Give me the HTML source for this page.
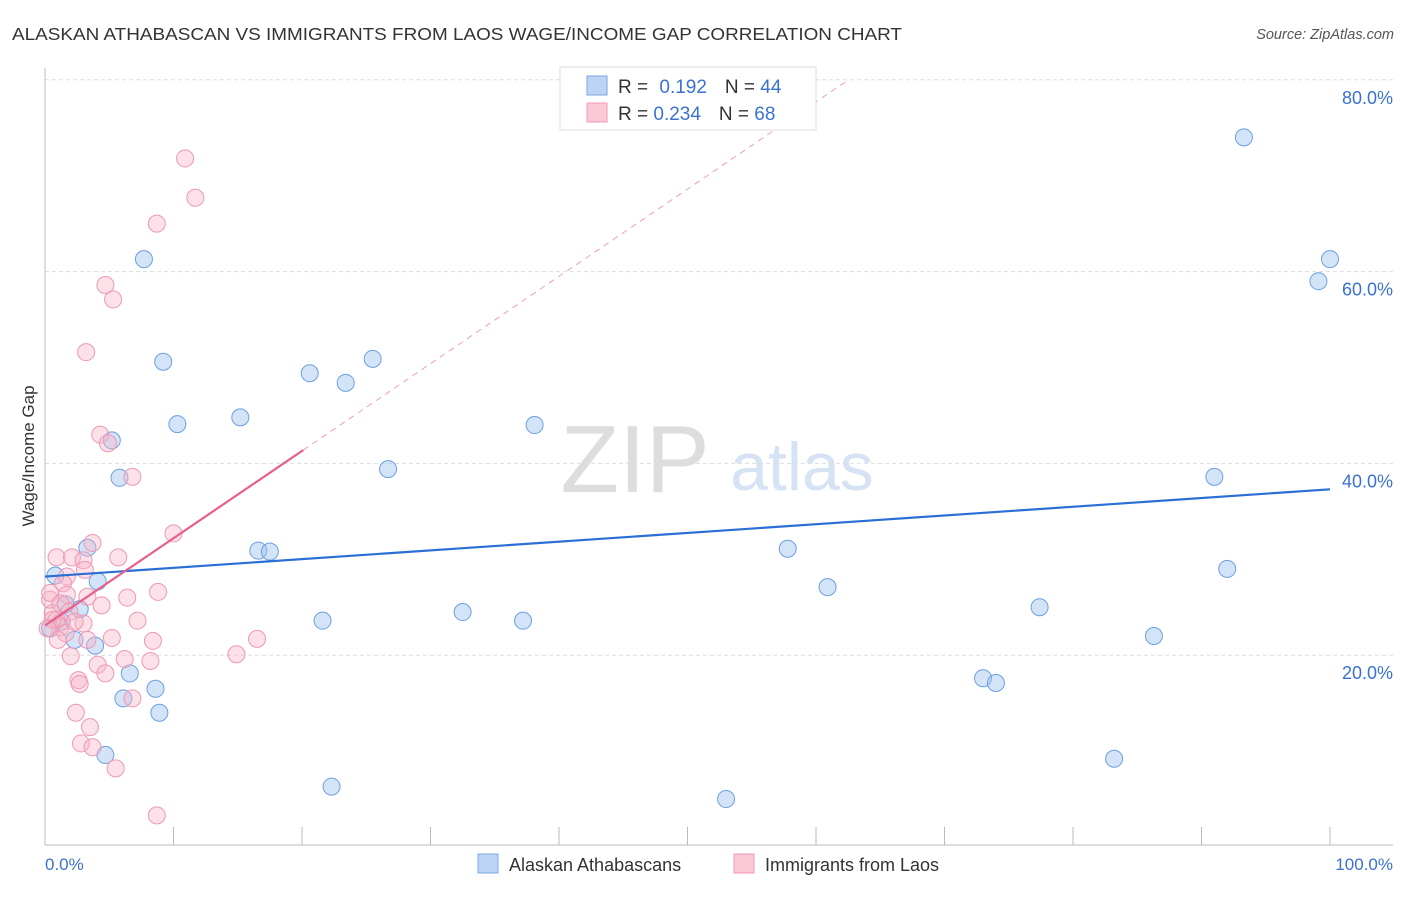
<!DOCTYPE html>
<html><head><meta charset="utf-8"><style>
body{margin:0;background:#fff;font-family:"Liberation Sans",sans-serif;}
svg text{font-family:"Liberation Sans",sans-serif;}
</style></head><body>
<svg id="c" width="1406" height="892">
<text x="12" y="40" font-size="17.5" fill="#333" textLength="890" lengthAdjust="spacingAndGlyphs">ALASKAN ATHABASCAN VS IMMIGRANTS FROM LAOS WAGE/INCOME GAP CORRELATION CHART</text>
<text x="1394" y="39" font-size="14.5" fill="#555" font-style="italic" text-anchor="end">Source: ZipAtlas.com</text>
<text x="635" y="492" font-size="96" fill="#ddd" font-family="Liberation Serif" text-anchor="middle">ZIP</text>
<text x="802" y="490" font-size="68" fill="#d6e3f5" text-anchor="middle">atlas</text>
<g id="grid"></g>
<g id="marks"></g>
<text transform="translate(34,456) rotate(-90)" font-size="17" fill="#333" text-anchor="middle">Wage/Income Gap</text>
<text x="45" y="870" font-size="17" fill="#3a72d0">0.0%</text>
<text x="1393" y="870" font-size="17" fill="#3a72d0" text-anchor="end">100.0%</text>
<g>
<rect x="560" y="67" width="256" height="63" fill="#fff" stroke="#ddd"/>
<rect x="587" y="76" width="20" height="19" fill="#bcd5f5" stroke="#7aa6e0"/>
<rect x="587" y="103" width="20" height="19" fill="#fbc8d6" stroke="#f09ab2"/>
<text x="618" y="93" font-size="19" fill="#333">R = <tspan fill="#3a72d0" dx="6">0.192</tspan><tspan dx="18">N = </tspan><tspan fill="#3a72d0">44</tspan></text>
<text x="618" y="120" font-size="19" fill="#333">R = <tspan fill="#3a72d0">0.234</tspan><tspan dx="18">N = </tspan><tspan fill="#3a72d0">68</tspan></text>
</g>
<g>
<rect x="478" y="854" width="20" height="19" fill="#bcd5f5" stroke="#7aa6e0"/>
<text x="509" y="871" font-size="18" fill="#333">Alaskan Athabascans</text>
<rect x="734" y="854" width="20" height="19" fill="#fbc8d6" stroke="#f09ab2"/>
<text x="765" y="871" font-size="18" fill="#333">Immigrants from Laos</text>
</g>
</svg>
<script>
const yTicks=[20,40,60,80];
const xTicks=[10,20,30,40,50,60,70,80,90,100];
const blueX=[93.3,100,99.1,7.7,9.2,25.5,20.6,23.4,10.3,15.2,38.1,5.2,26.7,5.8,91.0,16.6,17.5,57.8,3.3,0.8,4.1,60.9,92.0,1.6,2.7,32.5,21.6,37.2,77.4,86.3,2.3,3.9,6.6,8.6,6.1,8.9,73.0,74.0,4.7,22.3,53.0,83.2,0.4,1.3];
const blueY=[74.0,61.3,59.0,61.3,50.6,50.9,49.4,48.4,44.1,44.8,44.0,42.4,39.4,38.5,38.6,30.9,30.8,31.1,31.2,28.3,27.7,27.1,29.0,25.3,24.8,24.5,23.6,23.6,25.0,22.0,21.6,21.0,18.1,16.5,15.5,14.0,17.6,17.1,9.6,6.3,5.0,9.2,22.8,23.5];
const pinkX=[10.9,11.7,8.7,4.7,5.3,3.2,4.3,4.9,6.8,10.0,0.9,2.1,3.0,3.7,3.1,5.7,1.7,3.3,4.4,6.4,8.8,7.2,3.0,5.2,8.4,3.3,2.0,6.2,8.2,4.1,4.7,2.6,2.7,2.4,3.5,2.8,3.7,5.5,6.8,8.7,14.9,16.5,0.6,1.2,0.4,1.4,0.4,0.9,1.7,1.2,1.6,0.6,0.2,1.9,2.3,1.0];
const pinkY=[71.8,67.7,65.0,58.6,57.1,51.6,43.0,42.1,38.6,32.7,30.2,30.2,29.9,31.7,28.9,30.2,28.2,26.1,25.2,26.0,26.6,23.6,23.3,21.8,21.5,21.6,19.9,19.6,19.4,19.0,18.1,17.4,17.0,14.0,12.5,10.8,10.4,8.2,15.5,3.3,20.1,21.7,24.4,22.9,25.8,27.5,26.5,23.7,26.3,25.4,22.3,23.7,22.8,24.5,23.5,21.6];
const blueFit=[28.2,37.3];
const pinkFit=[23.1,0.91];
const sx=v=>45+v*12.85, sy=v=>847-v*9.59;
const NS="http://www.w3.org/2000/svg";
function mk(t,a,p){const e=document.createElementNS(NS,t);for(const k in a)e.setAttribute(k,a[k]);p.appendChild(e);return e;}
const g=document.getElementById('grid'), m=document.getElementById('marks');
yTicks.forEach(t=>{
 const l=mk('line',{x1:45,x2:1393,y1:sy(t),y2:sy(t),stroke:'#ddd','stroke-dasharray':'4,3'},g);
 
 
 const tx=mk('text',{x:1393,y:sy(t)+24,'font-size':18,fill:'#3a72d0','text-anchor':'end'},g);
 tx.textContent=t.toFixed(1)+'%';
 
 
});
const ax=mk('line',{x1:45,x2:45,y1:68,y2:845,stroke:'#bbb'},g);


const bx=mk('line',{x1:45,x2:1393,y1:845,y2:845,stroke:'#bbb'},g);


xTicks.forEach(t=>{
 const l=mk('line',{x1:sx(t),x2:sx(t),y1:827,y2:845,stroke:'#bbb'},g);
 
 
});
blueX.forEach((x,i)=>{
 const c=mk('circle',{cx:sx(x),cy:sy(blueY[i]),r:8.5,fill:'rgba(160,195,240,0.45)',stroke:'#6d9fe0','stroke-width':1},m);
 
 
});
pinkX.forEach((x,i)=>{
 const c=mk('circle',{cx:sx(x),cy:sy(pinkY[i]),r:8.5,fill:'rgba(248,180,200,0.4)',stroke:'#ee98b2','stroke-width':1},m);
 
 
});
const bl=mk('line',{x1:sx(0),y1:sy(blueFit[0]),x2:sx(100),y2:sy(blueFit[1]),stroke:'#2a6fd6','stroke-width':2.2},m);


const xe=20.1, xd=(80-pinkFit[0])/pinkFit[1];
const pl=mk('line',{x1:sx(0),y1:sy(pinkFit[0]),x2:sx(xe),y2:sy(pinkFit[0]+pinkFit[1]*xe),stroke:'#e8608a','stroke-width':2.2},m);


const pd=mk('line',{x1:sx(xe),y1:sy(pinkFit[0]+pinkFit[1]*xe),x2:sx(xd),y2:sy(80),stroke:'#eaa0b8','stroke-width':1,'stroke-dasharray':'6,5'},m);


</script>
</body></html>
